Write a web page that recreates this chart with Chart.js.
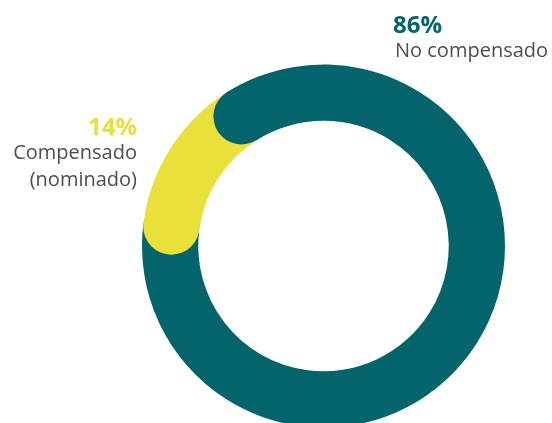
<!DOCTYPE html>
<html>
<head>
<meta charset="utf-8">
<script src="https://cdn.jsdelivr.net/npm/chart.js"></script>
<style>
  html, body { margin: 0; padding: 0; background: #fff; overflow: hidden; }
  .chart-box { position: relative; width: 552px; height: 440px; }
</style>
</head>
<body>
<div class="chart-box">
  <canvas id="myChart" width="552" height="440"></canvas>
</div>
<script>
// data
var categories = ['Compensado (nominado)', 'No compensado'];
var labelLines = [['Compensado', '(nominado)'], ['No compensado']];
var values = [14, 86];
var colors = ['#E9E13A', '#03646B'];

// label placement (left block right-aligned, right block left-aligned)
var labelPos = [
  { x: 137, y: 135, align: 'right' },
  { x: 393, y: 33, align: 'left' }
];

// round end caps on each slice start
var roundCaps = {
  id: 'roundCaps',
  afterDatasetsDraw: function (chart) {
    var ctx = chart.ctx;
    var meta = chart.getDatasetMeta(0);
    meta.data.forEach(function (arc, i) {
      var p = arc.getProps(['x', 'y', 'startAngle', 'innerRadius', 'outerRadius'], true);
      var r = (p.outerRadius + p.innerRadius) / 2;
      var w = (p.outerRadius - p.innerRadius) / 2;
      ctx.save();
      ctx.fillStyle = colors[i];
      ctx.beginPath();
      ctx.arc(p.x + r * Math.cos(p.startAngle), p.y + r * Math.sin(p.startAngle), w, 0, Math.PI * 2);
      ctx.fill();
      ctx.restore();
    });
  }
};

// percent + name labels
var sliceLabels = {
  id: 'sliceLabels',
  afterDraw: function (chart) {
    var ctx = chart.ctx;
    ctx.save();
    values.forEach(function (v, i) {
      var pos = labelPos[i];
      ctx.textAlign = pos.align;
      ctx.textBaseline = 'alphabetic';
      ctx.fillStyle = colors[i];
      ctx.font = 'bold 24px "Open Sans"';
      ctx.fillText(v + '%', pos.x, pos.y);
      ctx.fillStyle = '#4d4d4d';
      ctx.font = '20px "Open Sans"';
      labelLines[i].forEach(function (line, j) {
        var dx = pos.align == 'left' ? 2 : 0;
        ctx.fillText(line, pos.x + dx, pos.y + 24 + j * 27);
      });
    });
    ctx.restore();
  }
};

var ctx = document.getElementById('myChart');
var myChart = new Chart(ctx, {
  type: 'doughnut',
  data: {
    labels: categories,
    datasets: [{
      data: values,
      backgroundColor: colors,
      borderWidth: 0
    }]
  },
  options: {
    responsive: false,
    animation: false,
    rotation: -82.7,
    cutout: '69%',
    layout: {
      padding: { left: 142, right: 47, top: 64.5, bottom: 12.5 }
    },
    plugins: {
      legend: { display: false },
      tooltip: { enabled: false }
    }
  },
  plugins: [roundCaps, sliceLabels]
});
</script>
</body>
</html>
